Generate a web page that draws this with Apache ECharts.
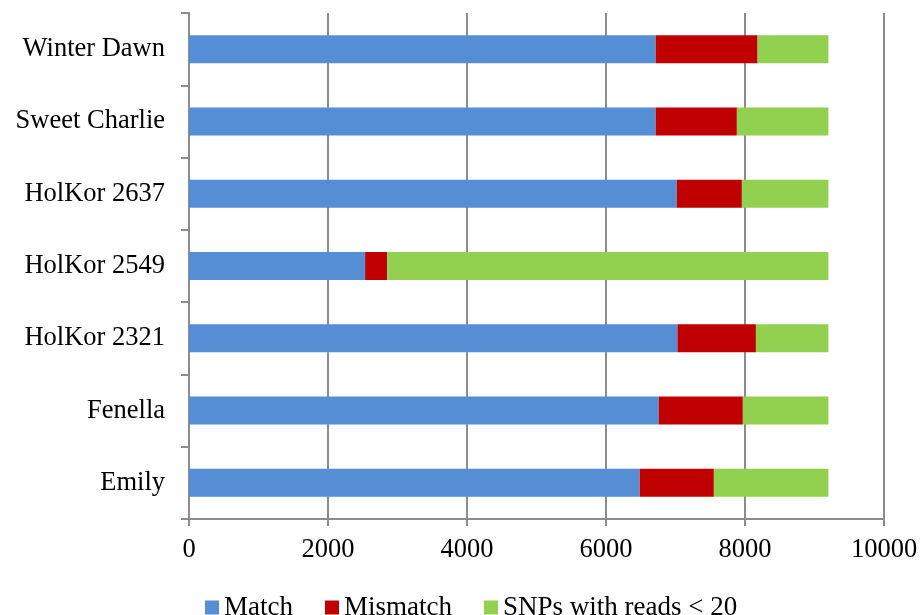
<!DOCTYPE html>
<html><head><meta charset="utf-8">
<script src="https://cdn.jsdelivr.net/npm/echarts@6/dist/echarts.min.js"></script>
<style>html,body{margin:0;padding:0;background:#fff}#c{width:921px;height:615px}</style>
</head><body><div id="c"></div>
<script>
const categories = ["Winter Dawn","Sweet Charlie","HolKor 2637","HolKor 2549","HolKor 2321","Fenella","Emily"];
const matchVals = [6715, 6715, 7018, 2534, 7028, 6759, 6485];
const mismatchVals = [1466, 1168, 937, 317, 1129, 1210, 1067];
const lowReadVals = [1019, 1317, 1245, 6349, 1043, 1231, 1648];
const xTicks = [0, 2000, 4000, 6000, 8000, 10000];

const font = '"Liberation Serif", "Times New Roman", serif';
const chart = echarts.init(document.getElementById('c'), null, {renderer:'canvas'});
chart.setOption({
  animation:false,
  backgroundColor:'#fff',
  textStyle:{fontFamily:font, color:'#000'},
  grid:{left:189, right:37, top:13, bottom:96, containLabel:false},
  legend:{
    left:200, top:589, icon:'rect', itemWidth:14, itemHeight:14, itemGap:32,
    textStyle:{fontFamily:font, fontSize:27, color:'#000'},
    data:['Match','Mismatch','SNPs with reads < 20']
  },
  xAxis:{
    type:'value', min:xTicks[0], max:xTicks[xTicks.length-1], interval:2000,
    axisLine:{show:true, lineStyle:{color:'#8c8c8c', width:2}},
    axisTick:{show:true, length:7, lineStyle:{color:'#8c8c8c', width:2}},
    splitLine:{show:true, lineStyle:{color:'#8c8c8c', width:2}},
    axisLabel:{margin:18, fontFamily:font, fontSize:26.5, color:'#000', formatter:v => String(v)}
  },
  yAxis:{
    type:'category', data:categories, inverse:true,
    axisLine:{show:true, lineStyle:{color:'#8c8c8c', width:2}},
    axisTick:{show:true, length:8, lineStyle:{color:'#8c8c8c', width:2}},
    axisLabel:{margin:24, fontFamily:font, fontSize:26.5, color:'#000'}
  },
  series:[
    {name:'Match', type:'bar', stack:'t', data:matchVals, barWidth:28, itemStyle:{color:'#558ED5'}},
    {name:'Mismatch', type:'bar', stack:'t', data:mismatchVals, barWidth:28, itemStyle:{color:'#C00000'}},
    {name:'SNPs with reads < 20', type:'bar', stack:'t', data:lowReadVals, barWidth:28, itemStyle:{color:'#92D050'}}
  ]
});
</script></body></html>
